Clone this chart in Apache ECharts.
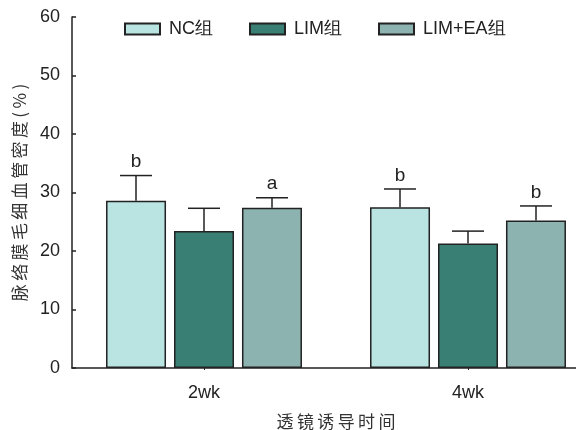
<!DOCTYPE html>
<html>
<head>
<meta charset="utf-8">
<script src="https://cdn.jsdelivr.net/npm/echarts@6/dist/echarts.min.js"></script>
<style>
  html, body { margin: 0; padding: 0; background: #fff; }
  #chart { width: 576px; height: 430px; }
</style>
</head>
<body>
<div id="chart"></div>
<script>
const categories = ['2wk', '4wk']
const groups = ['NC组', 'LIM组', 'LIM+EA组']
const ncMean = [28.6, 27.5]
const ncErr = [4.3, 3.1]
const limMean = [23.4, 21.3]
const limErr = [3.9, 2.1]
const eaMean = [27.4, 25.2]
const eaErr = [1.7, 2.5]
const ncMark = ['b', 'b']
const limMark = ['', '']
const eaMark = ['a', 'b']
const yTicks = [0, 10, 20, 30, 40, 50, 60]

const colors = ['#b9e4e2', '#3a7f74', '#8cb3b0']
const barW = 60
const barGapPx = 8
const font = 'Liberation Sans, Arial, sans-serif'
const cjk = 'Noto Sans CJK SC, sans-serif'

const spaced = (s) => s.split('').join('\u2009')

const chart = echarts.init(document.getElementById('chart'))

const errorSeries = (name, means, errs, marks, slot) => ({
  name: name,
  type: 'custom',
  z: 5,
  silent: true,
  renderItem: function (params, api) {
    const i = api.value(0)
    const base = api.coord([i, api.value(1)])
    const top = api.coord([i, api.value(1) + api.value(2)])
    const x = base[0] + slot * (barW + barGapPx)
    const children = [
      {
        type: 'line',
        shape: { x1: x, y1: base[1], x2: x, y2: top[1] },
        style: { stroke: '#222', lineWidth: 1.5 },
      },
      {
        type: 'line',
        shape: { x1: x - 16, y1: top[1], x2: x + 16, y2: top[1] },
        style: { stroke: '#222', lineWidth: 1.5 },
      },
    ]
    const m = marks[i]
    if (m) {
      children.push({
        type: 'text',
        style: {
          text: m,
          x: x,
          y: top[1] - 4,
          align: 'center',
          verticalAlign: 'bottom',
          fill: '#222',
          font: '19px ' + font,
        },
      })
    }
    return { type: 'group', children: children }
  },
  data: means.map((v, i) => [i, v, errs[i]]),
})

const barSeries = (name, values, color) => ({
  name: name,
  type: 'bar',
  barWidth: barW,
  barGap: (barGapPx / barW * 100).toFixed(1) + '%',
  itemStyle: { color: color, borderColor: '#222', borderWidth: 1.5 },
  data: values,
})

const option = {
  backgroundColor: '#fff',
  animation: false,
  legend: {
    left: 119,
    top: 15,
    itemWidth: 35,
    itemHeight: 11,
    itemGap: 36,
    icon: 'rect',
    textStyle: {
      fontSize: 18,
      color: '#222',
      fontFamily: font,
      padding: [0, 0, 0, 4],
    },
    data: groups,
  },
  grid: {
    left: 72,
    width: 528,
    top: 17,
    bottom: 62,
    containLabel: false,
    outerBoundsMode: 'none',
  },
  xAxis: {
    type: 'category',
    data: categories,
    name: spaced('透镜诱导时间'),
    nameLocation: 'middle',
    nameGap: 45,
    nameTextStyle: { fontSize: 17, color: '#333', fontFamily: cjk },
    axisLine: { lineStyle: { color: '#222', width: 1.5 } },
    axisTick: { show: true, alignWithLabel: true, length: 2, lineStyle: { color: '#222' } },
    axisLabel: { fontSize: 18, color: '#222', fontFamily: font, margin: 16 },
  },
  yAxis: {
    type: 'value',
    min: 0,
    max: yTicks[yTicks.length - 1],
    interval: yTicks[1] - yTicks[0],
    name: spaced('脉络膜毛细血管密度(%)'),
    nameLocation: 'middle',
    nameRotate: 90,
    nameGap: 44,
    nameTextStyle: { fontSize: 17, color: '#333', fontFamily: cjk },
    axisLine: { show: true, lineStyle: { color: '#222', width: 1.5 } },
    axisTick: { show: true, inside: true, length: 4, lineStyle: { color: '#222', width: 1.5 } },
    axisLabel: { fontSize: 18, color: '#222', fontFamily: font, margin: 12 },
    splitLine: { show: false },
  },
  series: [
    barSeries(groups[0], ncMean, colors[0]),
    barSeries(groups[1], limMean, colors[1]),
    barSeries(groups[2], eaMean, colors[2]),
    errorSeries('errNC', ncMean, ncErr, ncMark, -1),
    errorSeries('errLIM', limMean, limErr, limMark, 0),
    errorSeries('errEA', eaMean, eaErr, eaMark, 1),
  ],
}

chart.setOption(option)
</script>
</body>
</html>
